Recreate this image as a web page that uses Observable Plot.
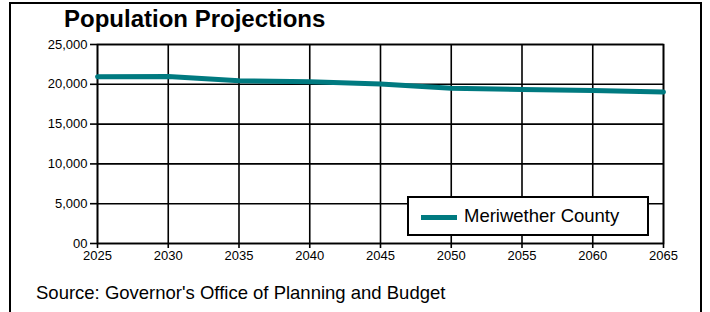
<!DOCTYPE html>
<html>
<head>
<meta charset="utf-8">
<script src="https://cdn.jsdelivr.net/npm/d3@7"></script>
<script src="https://cdn.jsdelivr.net/npm/@observablehq/plot@0.6"></script>
<style>
  html, body { margin: 0; padding: 0; background: #fff; overflow: hidden; }
  body { font-family: "Liberation Sans", Arial, sans-serif; }
  #wrap { position: relative; width: 710px; height: 312px; }
  #outer { position: absolute; left: 9px; top: 2px; width: 693px; height: 330px; border: 2px solid #000; box-sizing: border-box; }
  #title { position: absolute; left: 64px; top: 5px; font-size: 24px; font-weight: bold; color: #000; white-space: nowrap; }
  #source { position: absolute; left: 36px; top: 282px; font-size: 18.5px; color: #000; white-space: nowrap; }
  #legend { position: absolute; left: 407px; top: 196px; width: 242px; height: 40px; border: 2px solid #000; box-sizing: border-box; background: #fff; }
  #legend .sw { position: absolute; left: 12px; top: 17px; width: 36px; height: 5px; background: #007a80; }
  #legend .lb { position: absolute; left: 55px; top: 7px; font-size: 18.5px; color: #000; white-space: nowrap; }
  #chart { position: absolute; left: 0; top: 0; }
</style>
</head>
<body>
<div id="wrap">
  <div id="chart"></div>
  <div id="outer"></div>
  <div id="title">Population Projections</div>
  <div id="legend"><div class="sw"></div><div class="lb">Meriwether County</div></div>
  <div id="source">Source: Governor's Office of Planning and Budget</div>
</div>
<script>
const years = [2025, 2030, 2035, 2040, 2045, 2050, 2055, 2060, 2065];
const population = [20950, 20990, 20450, 20330, 20040, 19490, 19360, 19230, 19030];
const seriesName = "Meriwether County";
const yTicks = [0, 5000, 10000, 15000, 20000, 25000];
const yTickLabels = ["00", "5,000", "10,000", "15,000", "20,000", "25,000"];
const xTicks = years;

const data = years.map((y, i) => ({year: y, value: population[i], series: seriesName}));

const chart = Plot.plot({
  width: 710,
  height: 312,
  marginLeft: 97,
  marginRight: 47,
  marginTop: 44,
  marginBottom: 69,
  style: {fontFamily: "'Liberation Sans', Arial, sans-serif", fontSize: "13px", color: "#000", background: "transparent"},
  x: {domain: [2025, 2065], label: null},
  y: {domain: [0, 25000], label: null},
  marks: [
    Plot.gridX(xTicks, {stroke: "#000", strokeOpacity: 1, strokeWidth: 1.6}),
    Plot.gridY(yTicks, {stroke: "#000", strokeOpacity: 1, strokeWidth: 1.6}),
    Plot.frame({stroke: "#000", strokeWidth: 1.6}),
    Plot.axisX({ticks: xTicks, tickFormat: d => String(d), tickSize: 5, tickPadding: 2, fontSize: 13, stroke: "#000", strokeWidth: 1.6}),
    Plot.axisY({ticks: yTicks, tickFormat: d => yTickLabels[yTicks.indexOf(d)], tickSize: 7, tickPadding: 3, fontSize: 13, stroke: "#000", strokeWidth: 1.6}),
    Plot.line(data, {x: "year", y: "value", stroke: "#007a80", strokeWidth: 5, curve: "linear"})
  ]
});
document.getElementById("chart").appendChild(chart);
</script>
</body>
</html>
